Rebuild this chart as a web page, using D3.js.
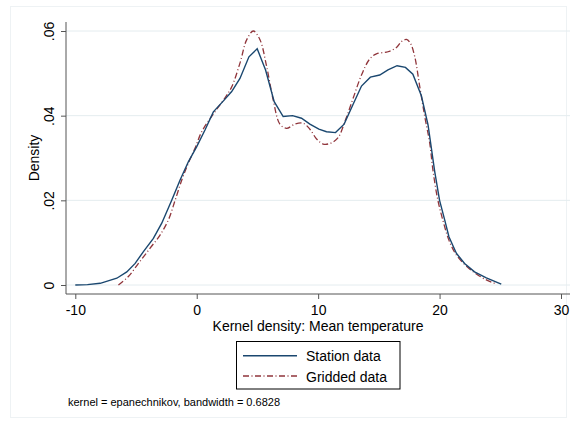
<!DOCTYPE html>
<html><head><meta charset="utf-8">
<script src="https://cdn.jsdelivr.net/npm/d3@7"></script>
<style>body{margin:0;background:#fff}svg{display:block;font-family:"Liberation Sans",Arial,sans-serif}</style>
</head><body>
<script>
const stationX = [-10,-9,-7.95,-6.58,-5.76,-5.07,-4.39,-3.57,-2.88,-2.06,-1.37,-0.69,0,0.68,1.37,2.33,2.88,3.56,4.3,4.98,5.67,6.38,7.12,7.89,8.63,9.32,10.06,10.69,11.43,12.14,12.88,13.57,14.3,15.07,15.75,16.5,17.19,17.8,18.5,19.05,19.6,20.0,20.42,20.77,21.38,22.06,22.88,23.85,25.08];
const stationY = [0,0.0001,0.0004,0.0016,0.0031,0.0051,0.0079,0.011,0.0146,0.020,0.0248,0.0291,0.0327,0.0366,0.0409,0.0439,0.0457,0.0488,0.0539,0.0558,0.0508,0.0433,0.0398,0.0400,0.0394,0.0380,0.0368,0.0362,0.0360,0.0380,0.0427,0.0470,0.0491,0.0496,0.0508,0.0518,0.0514,0.0498,0.0447,0.0378,0.0268,0.0200,0.0154,0.0114,0.0075,0.0051,0.0031,0.0017,0.0002];
const griddedX = [-6.45,-5.63,-4.8,-3.84,-3.02,-2.33,-1.78,-1.23,-0.69,-0.14,0.41,1.37,2.33,2.88,3.56,4.11,4.66,5.2,5.76,6.3,6.85,7.4,8.08,8.77,9.32,9.87,10.41,11.04,11.64,12.25,12.88,13.57,14.25,14.8,15.75,16.45,16.86,17.27,17.6,17.95,18.37,18.78,19.19,19.46,19.87,20.34,20.77,21.38,22.2,23.03,23.85,24.53];
const griddedY = [0,0.002,0.0051,0.0087,0.0118,0.0154,0.020,0.0248,0.0288,0.0323,0.0362,0.0404,0.0442,0.0468,0.0524,0.0579,0.0600,0.0580,0.0516,0.0437,0.0380,0.0370,0.0380,0.0382,0.0368,0.0345,0.0333,0.0335,0.0348,0.0390,0.0441,0.0496,0.0534,0.0546,0.0551,0.0561,0.0575,0.0580,0.0571,0.0540,0.0468,0.0398,0.0335,0.0270,0.0199,0.0146,0.0106,0.0071,0.0045,0.0026,0.0012,0.0004];
const xTicks = [-10,0,10,20,30];
const xTickLabels = ["-10","0","10","20","30"];
const yTicks = [0,0.02,0.04,0.06];
const yTickLabels = ["0",".02",".04",".06"];
const seriesNames = ["Station data","Gridded data"];
const xTitle = "Kernel density: Mean temperature";
const yTitle = "Density";
const note = "kernel = epanechnikov, bandwidth = 0.6828";

const W=576,H=424;
const svg=d3.select("body").append("svg").attr("width",W).attr("height",H);
svg.append("rect").attr("x",10.5).attr("y",6.5).attr("width",556).attr("height",411)
  .attr("fill","#fff").attr("stroke","#eef2f4");

const x=d3.scaleLinear().domain([-10,30]).range([75.3,561]);
const y=d3.scaleLinear().domain([0,0.06]).range([285,31]);
const plotL=66,plotR=570;

// gridlines
svg.append("g").selectAll("line").data(yTicks).join("line")
  .attr("x1",plotL).attr("x2",plotR).attr("y1",d=>y(d)).attr("y2",d=>y(d))
  .attr("stroke","#e4ecef").attr("stroke-width",1);

// y axis
const ya=svg.append("g").attr("transform",`translate(${plotL},0)`)
  .call(d3.axisLeft(y).tickValues(yTicks).tickSize(5).tickFormat((d,i)=>yTickLabels[i]));
ya.select(".domain").attr("d",`M0,22V294`).attr("stroke","#555");
ya.selectAll(".tick line").attr("stroke","#555");
ya.selectAll(".tick text").attr("transform","rotate(-90)").attr("x",0).attr("y",-12)
  .attr("dy",0).attr("text-anchor","middle").attr("font-size",14).attr("fill","#000")
  .attr("font-family","Liberation Sans, Arial, sans-serif");

// x axis
const xa=svg.append("g").attr("transform",`translate(0,294)`)
  .call(d3.axisBottom(x).tickValues(xTicks).tickSize(5).tickFormat((d,i)=>xTickLabels[i]));
xa.select(".domain").attr("d",`M${plotL},0H${plotR}`).attr("stroke","#555");
xa.selectAll(".tick line").attr("stroke","#555");
xa.selectAll(".tick text").attr("y",21).attr("dy",0).attr("font-size",14).attr("fill","#000")
  .attr("font-family","Liberation Sans, Arial, sans-serif");

// titles
svg.append("text").attr("x",318).attr("y",331).attr("text-anchor","middle").attr("font-size",14).text(xTitle);
svg.append("text").attr("transform","translate(39,158) rotate(-90)").attr("text-anchor","middle").attr("font-size",14).text(yTitle);

// lines
const st=stationX.map((v,i)=>[v,stationY[i]]);
const gr=griddedX.map((v,i)=>[v,griddedY[i]]);
const line=d3.line().x(d=>x(d[0])).y(d=>y(d[1]));
const lineSmooth=d3.line().x(d=>x(d[0])).y(d=>y(d[1])).curve(d3.curveCatmullRom);
svg.append("path").attr("d",lineSmooth(gr)).attr("fill","none").attr("stroke","#90353b")
  .attr("stroke-width",1.3).attr("stroke-dasharray","6,2.5,1,2.5");
svg.append("path").attr("d",line(st)).attr("fill","none").attr("stroke","#1a476f").attr("stroke-width",1.4);

// legend
svg.append("rect").attr("x",236.5).attr("y",341.5).attr("width",163.5).attr("height",47.5)
  .attr("fill","#fff").attr("stroke","#000");
const ly=[355.7,376];
svg.append("line").attr("x1",243).attr("x2",297).attr("y1",ly[0]).attr("y2",ly[0]).attr("stroke","#1a476f").attr("stroke-width",1.4);
svg.append("line").attr("x1",243).attr("x2",297).attr("y1",ly[1]).attr("y2",ly[1]).attr("stroke","#90353b").attr("stroke-width",1.3).attr("stroke-dasharray","6,2.5,1,2.5");
svg.append("text").attr("x",306).attr("y",361).attr("font-size",14).text(seriesNames[0]);
svg.append("text").attr("x",306).attr("y",381.5).attr("font-size",14).text(seriesNames[1]);

svg.append("text").attr("x",68).attr("y",406).attr("font-size",11).text(note);
</script>
</body></html>
